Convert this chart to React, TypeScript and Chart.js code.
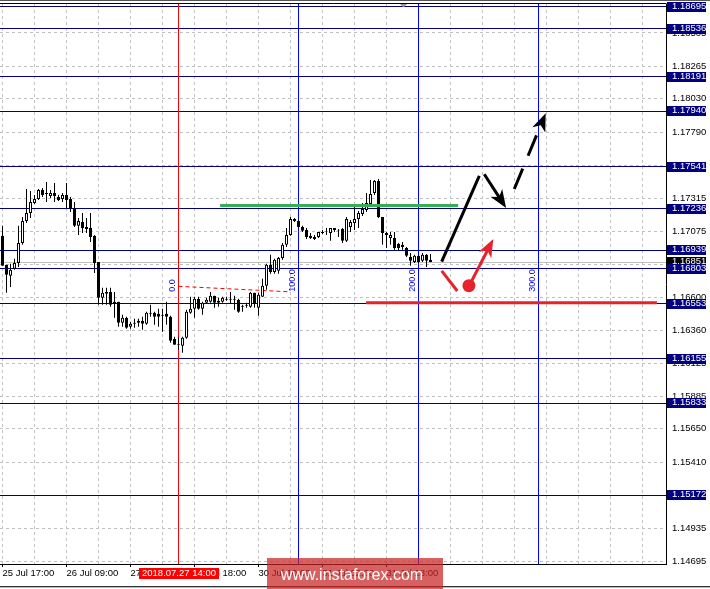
import React, { useEffect, useRef } from "react";
import { Chart, registerables } from "chart.js";

Chart.register(...registerables);

// ---- H1 candles (EURUSD), index 0 = 25 Jul 17:00 ----
const OPEN = [
  1.17042, 1.16833, 1.16754, 1.16804, 1.16847, 1.16991, 1.17150, 1.17207, 1.17279, 1.17308,
  1.17373, 1.17351, 1.17330, 1.17351, 1.17322, 1.17308, 1.17337, 1.17308, 1.17243, 1.17114,
  1.17142, 1.17106, 1.17099, 1.17042, 1.16854, 1.16595, 1.16638, 1.16638, 1.16552, 1.16566,
  1.16415, 1.16451, 1.16386, 1.16415, 1.16415, 1.16430, 1.16408, 1.16487, 1.16487, 1.16480,
  1.16473, 1.16480, 1.16458, 1.16300, 1.16264, 1.16250, 1.16307, 1.16487, 1.16516, 1.16588,
  1.16516, 1.16559, 1.16566, 1.16610, 1.16559, 1.16566, 1.16588, 1.16588, 1.16588, 1.16581,
  1.16538, 1.16538, 1.16530, 1.16631, 1.16523, 1.16602, 1.16682, 1.16833, 1.16782, 1.16790,
  1.16883, 1.16977, 1.17049, 1.17164, 1.17150, 1.17106, 1.17085, 1.17042, 1.17034, 1.17034,
  1.17070, 1.17070, 1.17063, 1.17099, 1.17085, 1.17092, 1.17006, 1.17106, 1.17135, 1.17164,
  1.17200, 1.17229, 1.17272, 1.17351, 1.17438, 1.17178, 1.17063, 1.17027, 1.17027, 1.16984,
  1.16977, 1.16955, 1.16890, 1.16854, 1.16898, 1.16862, 1.16905, 1.16869,
];
const HIGH = [
  1.17114, 1.16833, 1.16840, 1.16876, 1.17114, 1.17178, 1.17380, 1.17366, 1.17337, 1.17380,
  1.17387, 1.17431, 1.17373, 1.17423, 1.17337, 1.17351, 1.17423, 1.17322, 1.17286, 1.17171,
  1.17207, 1.17171, 1.17207, 1.17049, 1.16854, 1.16667, 1.16667, 1.16667, 1.16638, 1.16566,
  1.16473, 1.16458, 1.16422, 1.16444, 1.16444, 1.16458, 1.16494, 1.16545, 1.16494, 1.16516,
  1.16516, 1.16566, 1.16466, 1.16314, 1.16314, 1.16314, 1.16509, 1.16602, 1.16602, 1.16602,
  1.16566, 1.16595, 1.16638, 1.16610, 1.16595, 1.16602, 1.16602, 1.16638, 1.16610, 1.16588,
  1.16545, 1.16559, 1.16638, 1.16631, 1.16631, 1.16732, 1.16840, 1.16905, 1.16876, 1.16890,
  1.16991, 1.17099, 1.17178, 1.17171, 1.17157, 1.17114, 1.17099, 1.17063, 1.17049, 1.17070,
  1.17085, 1.17099, 1.17099, 1.17099, 1.17092, 1.17099, 1.17178, 1.17157, 1.17250, 1.17222,
  1.17279, 1.17351, 1.17445, 1.17445, 1.17452, 1.17178, 1.17070, 1.17070, 1.17070, 1.16991,
  1.16998, 1.16962, 1.16919, 1.16905, 1.16905, 1.16919, 1.16912, 1.16912,
];
const LOW = [
  1.16826, 1.16631, 1.16674, 1.16797, 1.16818, 1.16977, 1.17135, 1.17171, 1.17272, 1.17301,
  1.17322, 1.17286, 1.17315, 1.17286, 1.17294, 1.17286, 1.17243, 1.17214, 1.17106, 1.17049,
  1.17063, 1.17063, 1.16998, 1.16775, 1.16545, 1.16545, 1.16545, 1.16530, 1.16451, 1.16386,
  1.16386, 1.16372, 1.16372, 1.16379, 1.16386, 1.16365, 1.16401, 1.16458, 1.16401, 1.16386,
  1.16350, 1.16401, 1.16271, 1.16257, 1.16221, 1.16199, 1.16300, 1.16480, 1.16451, 1.16509,
  1.16473, 1.16559, 1.16559, 1.16523, 1.16530, 1.16559, 1.16574, 1.16552, 1.16509, 1.16487,
  1.16494, 1.16523, 1.16523, 1.16523, 1.16466, 1.16602, 1.16653, 1.16768, 1.16768, 1.16768,
  1.16869, 1.16962, 1.17042, 1.17142, 1.17099, 1.17070, 1.17020, 1.17020, 1.17013, 1.17027,
  1.17056, 1.17049, 1.17006, 1.17070, 1.17034, 1.16991, 1.16998, 1.17070, 1.17085, 1.17099,
  1.17186, 1.17214, 1.17265, 1.17337, 1.17171, 1.16977, 1.16955, 1.16977, 1.16941, 1.16934,
  1.16941, 1.16890, 1.16826, 1.16847, 1.16847, 1.16854, 1.16818, 1.16854,
];
const CLOSE = [
  1.16826, 1.16761, 1.16797, 1.16847, 1.16991, 1.17150, 1.17207, 1.17286, 1.17308, 1.17373,
  1.17337, 1.17344, 1.17351, 1.17330, 1.17301, 1.17337, 1.17301, 1.17236, 1.17114, 1.17150,
  1.17099, 1.17092, 1.17034, 1.16847, 1.16595, 1.16631, 1.16624, 1.16545, 1.16566, 1.16415,
  1.16451, 1.16379, 1.16408, 1.16408, 1.16430, 1.16408, 1.16487, 1.16480, 1.16458, 1.16458,
  1.16466, 1.16458, 1.16286, 1.16257, 1.16257, 1.16307, 1.16494, 1.16516, 1.16588, 1.16516,
  1.16559, 1.16581, 1.16610, 1.16559, 1.16574, 1.16595, 1.16581, 1.16581, 1.16581, 1.16494,
  1.16530, 1.16545, 1.16631, 1.16552, 1.16617, 1.16682, 1.16833, 1.16782, 1.16869, 1.16883,
  1.16977, 1.17049, 1.17164, 1.17150, 1.17106, 1.17078, 1.17034, 1.17027, 1.17020, 1.17070,
  1.17063, 1.17074, 1.17099, 1.17085, 1.17081, 1.17006, 1.17164, 1.17142, 1.17164, 1.17207,
  1.17236, 1.17279, 1.17344, 1.17438, 1.17178, 1.17063, 1.17049, 1.17049, 1.16955, 1.16955,
  1.16962, 1.16898, 1.16862, 1.16898, 1.16854, 1.16905, 1.16862, 1.16851,
];

// ---- axes ----
const X_MIN = -0.625;
const X_MAX = 165.875;
const Y_MIN = 1.146755;
const Y_MAX = 1.187141;
const GRID_INDEX = [0, 8, 16, 24, 32, 40, 48, 56, 64, 72, 80, 88, 96, 104, 112, 120, 128, 136, 144, 152, 160];
const TIME_TICK_INDEX = [0, 16, 32, 48, 64, 80, 96];
const TIME_TICK_LABELS = ["25 Jul 17:00", "26 Jul 09:00", "27 Jul 01:00", "27 Jul 18:00", "30 Jul 10:00", "31 Jul 02:00", "31 Jul 18:00"];
const PRICE_TICKS = [
  1.14695, 1.14935, 1.1517, 1.1541, 1.1565, 1.15885, 1.16125, 1.1636, 1.166,
  1.16835, 1.17075, 1.17315, 1.1755, 1.1779, 1.1803, 1.18265, 1.18505,
];

// ---- horizontal levels & markers ----
const LEVELS = [1.18695, 1.18536, 1.18191, 1.1794, 1.17541, 1.17236, 1.16939, 1.16803, 1.16553, 1.16155, 1.15833, 1.15172];
const BID_PRICE = 1.16851;
const SELECTED_INDEX = 44;
const SELECTED_LABEL = "2018.07.27 14:00";

// Fibonacci time zones
const FIB_INDEX = [44, 74, 104, 134];
const FIB_LABELS = ["0.0", "100.0", "200.0", "300.0"];
const FIB_BASE_X = [44, 71.4];
const FIB_BASE_Y = [1.16678, 1.16639];

// support / resistance segments
const GREEN_X = [54.4, 113.9];
const GREEN_Y = 1.17261;
const RED_X = [90.9, 163.6];
const RED_Y = 1.1656;

// forecast arrows: [x1, y1, x2, y2]
const BLACK_UP = [109.8, 1.16856, 119.2, 1.17474];
const BLACK_DOWN = [120.45, 1.17486, 125.9, 1.17243];
const BLACK_DASH = [127.95, 1.1738, 135.8, 1.17926];
const RED_DOWN = [109.8, 1.16789, 113.7, 1.16644];
const RED_DOT = [116.6, 1.16683];
const RED_UP = [116.9, 1.16695, 122.7, 1.17019];

const FONT = "'Liberation Sans', Arial, sans-serif";
const NAVY = "#000080";
const RED = "#e5232f";
const GREEN = "#35b04f";

function drawArrow(ctx: CanvasRenderingContext2D, x1: number, y1: number, x2: number, y2: number, color: string, width: number, dash: number[], head: boolean) {
  const dx = x2 - x1, dy = y2 - y1;
  const len = Math.hypot(dx, dy) || 1;
  const ux = dx / len, uy = dy / len;
  const L = 18, W = 7;
  const ex = head ? x2 - ux * L * 0.7 : x2;
  const ey = head ? y2 - uy * L * 0.7 : y2;
  ctx.save();
  ctx.strokeStyle = color;
  ctx.lineWidth = width;
  ctx.lineCap = "butt";
  ctx.setLineDash(dash);
  ctx.beginPath();
  ctx.moveTo(x1, y1);
  ctx.lineTo(ex, ey);
  ctx.stroke();
  if (head) {
    const bx = x2 - ux * L, by = y2 - uy * L;
    ctx.setLineDash([]);
    ctx.fillStyle = color;
    ctx.beginPath();
    ctx.moveTo(x2, y2);
    ctx.lineTo(bx - uy * W, by + ux * W);
    ctx.lineTo(x2 - ux * L * 0.72, y2 - uy * L * 0.72);
    ctx.lineTo(bx + uy * W, by - ux * W);
    ctx.closePath();
    ctx.fill();
  }
  ctx.restore();
}

const overlayPlugin = {
  id: "mtOverlay",
  beforeDatasetsDraw(chart: any) {
    const { ctx, chartArea: a, scales } = chart;
    const X = (v: number) => scales.x.getPixelForValue(v);
    const Y = (v: number) => scales.y.getPixelForValue(v);
    const crisp = (v: number) => Math.floor(v) + 0.5;
    ctx.save();
    ctx.beginPath();
    ctx.rect(a.left, a.top, a.right - a.left, a.bottom - a.top);
    ctx.clip();
    ctx.lineWidth = 1;
    // bid line
    ctx.strokeStyle = "#c0c0c0";
    let y = crisp(Y(BID_PRICE));
    ctx.beginPath(); ctx.moveTo(a.left, y); ctx.lineTo(a.right, y); ctx.stroke();
    // levels
    ctx.strokeStyle = NAVY;
    LEVELS.forEach((p) => {
      const yy = crisp(Y(p));
      ctx.beginPath(); ctx.moveTo(a.left, yy); ctx.lineTo(a.right, yy); ctx.stroke();
    });
    // fib time zones
    FIB_INDEX.forEach((v, i) => {
      const x = crisp(X(v));
      ctx.strokeStyle = i === 0 ? "#ff0000" : "#0000ff";
      ctx.beginPath(); ctx.moveTo(x, a.top); ctx.lineTo(x, a.bottom); ctx.stroke();
    });
    ctx.strokeStyle = "#ff0000";
    ctx.setLineDash([4, 3]);
    ctx.beginPath();
    ctx.moveTo(X(FIB_BASE_X[0]), Y(FIB_BASE_Y[0]));
    ctx.lineTo(X(FIB_BASE_X[1]), Y(FIB_BASE_Y[1]));
    ctx.stroke();
    ctx.restore();
  },
  afterDatasetsDraw(chart: any) {
    const { ctx, chartArea: a, scales } = chart;
    const X = (v: number) => scales.x.getPixelForValue(v);
    const Y = (v: number) => scales.y.getPixelForValue(v);
    ctx.save();
    ctx.beginPath();
    ctx.rect(a.left, a.top, a.right - a.left, a.bottom - a.top);
    ctx.clip();
    // fib labels
    ctx.fillStyle = "#0000ff";
    ctx.font = `9px ${FONT}`;
    ctx.textAlign = "left";
    ctx.textBaseline = "alphabetic";
    FIB_INDEX.forEach((v, i) => {
      ctx.save();
      ctx.translate(X(v) - 3.5, Y(FIB_BASE_Y[1]));
      ctx.rotate(-Math.PI / 2);
      ctx.fillText(FIB_LABELS[i], 0, 0);
      ctx.restore();
    });
    // green & red levels
    ctx.lineWidth = 3;
    ctx.strokeStyle = GREEN;
    ctx.beginPath(); ctx.moveTo(X(GREEN_X[0]), Y(GREEN_Y)); ctx.lineTo(X(GREEN_X[1]), Y(GREEN_Y)); ctx.stroke();
    ctx.strokeStyle = RED;
    ctx.beginPath(); ctx.moveTo(X(RED_X[0]), Y(RED_Y)); ctx.lineTo(X(RED_X[1]), Y(RED_Y)); ctx.stroke();
    // forecast
    const A = (s: number[], color: string, dash: number[], head: boolean) =>
      drawArrow(ctx, X(s[0]), Y(s[1]), X(s[2]), Y(s[3]), color, 3, dash, head);
    A(BLACK_UP, "#000", [], false);
    A(BLACK_DOWN, "#000", [], true);
    A(BLACK_DASH, "#000", [22, 14], true);
    A(RED_DOWN, RED, [], false);
    A(RED_UP, RED, [], true);
    ctx.fillStyle = RED;
    ctx.beginPath();
    ctx.arc(X(RED_DOT[0]), Y(RED_DOT[1]), 6.5, 0, Math.PI * 2);
    ctx.fill();
    ctx.restore();
  },
  afterDraw(chart: any) {
    const { ctx, chartArea: a, scales, width, height } = chart;
    const X = (v: number) => scales.x.getPixelForValue(v);
    const Y = (v: number) => scales.y.getPixelForValue(v);
    ctx.save();
    // frame lines
    ctx.lineWidth = 1;
    ctx.strokeStyle = "#555";
    ctx.beginPath(); ctx.moveTo(0, 0.5); ctx.lineTo(width, 0.5); ctx.stroke();
    ctx.strokeStyle = "#000";
    ctx.beginPath(); ctx.moveTo(0, a.top - 0.5); ctx.lineTo(a.right + 0.5, a.top - 0.5); ctx.stroke();
    ctx.strokeStyle = "#333";
    ctx.beginPath(); ctx.moveTo(0, height - 2.5); ctx.lineTo(width, height - 2.5); ctx.stroke();
    ctx.strokeStyle = "#bbb";
    ctx.beginPath(); ctx.moveTo(0, height - 1.5); ctx.lineTo(width, height - 1.5); ctx.stroke();
    // shift marker
    ctx.fillStyle = "#999";
    ctx.beginPath(); ctx.moveTo(a.left + 400, 4); ctx.lineTo(a.left + 407, 4); ctx.lineTo(a.left + 403.5, 7.5); ctx.closePath(); ctx.fill();
    // price boxes
    ctx.font = `9.5px ${FONT}`;
    ctx.textAlign = "left";
    ctx.textBaseline = "middle";
    const box = (p: number, bg: string) => {
      const yy = Math.round(Y(p));
      ctx.fillStyle = bg;
      ctx.fillRect(a.right + 1, yy - 5, 39, 10);
      ctx.fillStyle = "#fff";
      ctx.fillText(p.toFixed(5), a.right + 6, yy - 0.5);
    };
    box(BID_PRICE, "#000");
    LEVELS.forEach((p) => box(p, NAVY));
    // selected time box
    const sx = X(SELECTED_INDEX);
    ctx.fillStyle = "#ff0000";
    ctx.fillRect(Math.round(sx) - 40, a.bottom + 4, 80, 11);
    ctx.fillStyle = "#fff";
    ctx.textAlign = "center";
    ctx.fillText(SELECTED_LABEL, Math.round(sx), a.bottom + 9.5);
    // watermark
    ctx.fillStyle = "rgba(200,35,35,0.72)";
    ctx.fillRect(267, a.bottom - 6, 176, height - a.bottom + 6);
    ctx.fillStyle = "#fff";
    ctx.font = `16px ${FONT}`;
    ctx.textAlign = "center";
    ctx.textBaseline = "alphabetic";
    ctx.fillText("www.instaforex.com", 352, a.bottom + 16);
    ctx.restore();
  },
};

export default function App() {
  const ref = useRef<HTMLCanvasElement | null>(null);
  useEffect(() => {
    if (!ref.current) return;
    const wickData = OPEN.map((_, i) => ({ x: i, y: [LOW[i], HIGH[i]] }));
    const bodyData = OPEN.map((o, i) => ({ x: i, y: [Math.min(o, CLOSE[i]), Math.max(o, CLOSE[i])] }));
    const bodyFill = OPEN.map((o, i) => (CLOSE[i] >= o ? "#ffffff" : "#000000"));
    const chart = new Chart(ref.current, {
      type: "bar",
      data: {
        datasets: [
          {
            data: wickData as any,
            barThickness: 1,
            backgroundColor: "#000",
            borderWidth: 0,
            grouped: false,
            order: 2,
            inflateAmount: 0,
          } as any,
          {
            data: bodyData as any,
            barThickness: 3,
            backgroundColor: bodyFill,
            borderColor: "#000",
            borderWidth: 1,
            borderSkipped: false,
            grouped: false,
            order: 1,
            inflateAmount: 0,
          } as any,
        ],
      },
      options: {
        responsive: false,
        maintainAspectRatio: false,
        devicePixelRatio: 1,
        animation: false,
        events: [],
        layout: { padding: { top: 4, left: 0, right: 0, bottom: 0 } },
        plugins: { legend: { display: false }, tooltip: { enabled: false } },
        scales: {
          x: {
            type: "linear",
            min: X_MIN,
            max: X_MAX,
            offset: false,
            afterBuildTicks: (s: any) => {
              s.ticks = GRID_INDEX.map((v) => ({ value: v }));
            },
            afterFit: (s: any) => {
              s.height = 25;
              s.paddingLeft = 0;
              s.paddingRight = 0;
            },
            ticks: {
              autoSkip: false,
              maxRotation: 0,
              minRotation: 0,
              align: "start",
              padding: 1,
              color: "#000",
              font: { family: FONT, size: 9.5 },
              callback: (v: any) => {
                const i = TIME_TICK_INDEX.indexOf(Number(v));
                return i >= 0 ? TIME_TICK_LABELS[i] : "";
              },
            },
            grid: {
              offset: false,
              color: "#c0c0c0",
              lineWidth: 1,
              drawTicks: true,
              tickLength: 3,
              tickWidth: 1,
              tickBorderDash: [],
              tickColor: (c: any) => (c.tick && TIME_TICK_INDEX.includes(c.tick.value) ? "#000" : "rgba(0,0,0,0)"),
            },
            border: { display: true, color: "#000", width: 1, dash: [3, 3] },
          } as any,
          y: {
            type: "linear",
            position: "right",
            min: Y_MIN,
            max: Y_MAX,
            beginAtZero: false,
            afterBuildTicks: (s: any) => {
              s.ticks = PRICE_TICKS.map((v) => ({ value: v }));
            },
            afterFit: (s: any) => {
              s.width = 44;
              s.paddingTop = 0;
              s.paddingBottom = 0;
            },
            ticks: {
              autoSkip: false,
              padding: 6,
              color: "#000",
              font: { family: FONT, size: 9.5 },
              callback: (v: any) => Number(v).toFixed(5),
            },
            grid: { color: "#c0c0c0", lineWidth: 1, drawTicks: false },
            border: { display: true, color: "#000", width: 1, dash: [3, 3] },
          } as any,
        },
      },
      plugins: [overlayPlugin],
    });
    return () => chart.destroy();
  }, []);
  return (
    <div style={{ position: "fixed", left: 0, top: 0, width: 710, height: 589, background: "#fff" }}>
      <canvas ref={ref} width={710} height={589} style={{ display: "block", width: 710, height: 589 }} />
    </div>
  );
}
